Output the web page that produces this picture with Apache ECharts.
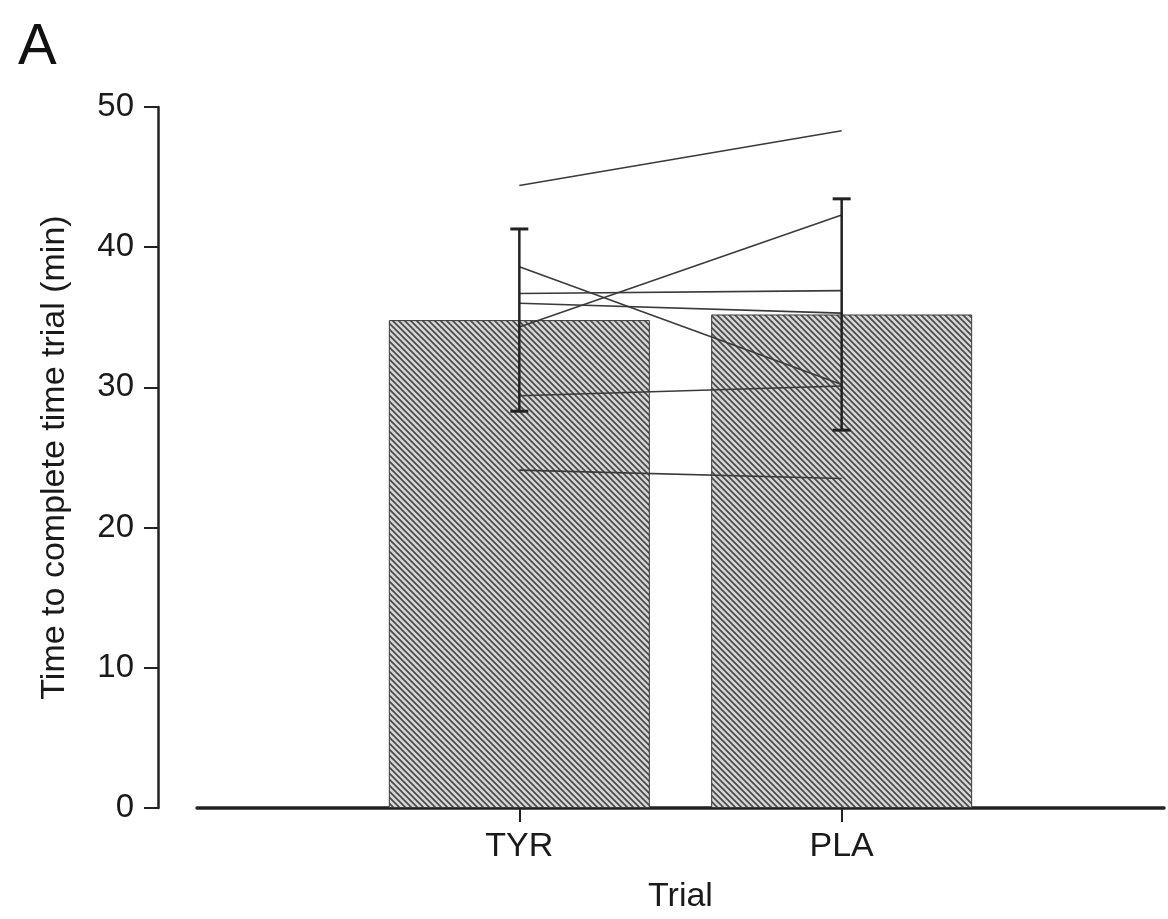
<!DOCTYPE html>
<html>
<head>
<meta charset="utf-8">
<script src="https://cdn.jsdelivr.net/npm/echarts@6/dist/echarts.min.js"></script>
<style>html,body{margin:0;padding:0;background:#fff;overflow:hidden;}#chart{width:1168px;height:919px;}</style>
</head>
<body>
<div id="chart"></div>
<script>
var categories = ['TYR', 'PLA'];
var categoryPos = [1, 2];
var meanValues = [34.8, 35.2];
var sdValues = [6.5, 8.25];
var subjectTYR = [44.4, 38.6, 36.7, 36.0, 34.3, 29.4, 24.1];
var subjectPLA = [48.3, 30.2, 36.9, 35.3, 42.3, 30.1, 23.5];
var yTicks = [0, 10, 20, 30, 40, 50];

function hatch() {
  var s = 6, c = document.createElement('canvas');
  c.width = s; c.height = s;
  var g = c.getContext('2d');
  g.fillStyle = '#d6d6d6';
  g.fillRect(0, 0, s, s);
  g.strokeStyle = '#4a4a4a';
  g.lineWidth = 1.7;
  g.beginPath();
  g.moveTo(-1, -1); g.lineTo(s + 1, s + 1);
  g.moveTo(-1, s - 1); g.lineTo(1, s + 1);
  g.moveTo(s - 1, -1); g.lineTo(s + 1, 1);
  g.stroke();
  return c;
}

var font = '"Liberation Sans", Arial, sans-serif';
var chart = echarts.init(document.getElementById('chart'), null, {renderer: 'canvas'});
var series = [];
series.push({
  type: 'bar',
  data: categoryPos.map(function (p, i) { return [p, meanValues[i]]; }),
  barWidth: 261,
  itemStyle: {color: {image: hatch(), repeat: 'repeat'}, borderColor: '#3a3a3a', borderWidth: 1},
  z: 1,
  silent: true
});
for (var i = 0; i < subjectTYR.length; i++) {
  series.push({
    type: 'line',
    data: [[categoryPos[0], subjectTYR[i]], [categoryPos[1], subjectPLA[i]]],
    symbol: 'none',
    lineStyle: {color: '#3a3a3a', width: 1.6},
    z: 3,
    silent: true
  });
}
series.push({
  type: 'custom',
  data: categoryPos.map(function (p, i) { return [p, meanValues[i], sdValues[i]]; }),
  renderItem: function (params, api) {
    var x = api.value(0), m = api.value(1), sd = api.value(2);
    var top = api.coord([x, m + sd]);
    var bot = api.coord([x, m - sd]);
    var hw = 9;
    return {
      type: 'group',
      children: [
        {type: 'line', shape: {x1: top[0], y1: top[1], x2: bot[0], y2: bot[1]}, style: {stroke: '#222', lineWidth: 2.5}},
        {type: 'line', shape: {x1: top[0] - hw, y1: top[1], x2: top[0] + hw, y2: top[1]}, style: {stroke: '#222', lineWidth: 3}},
        {type: 'line', shape: {x1: bot[0] - hw, y1: bot[1], x2: bot[0] + hw, y2: bot[1]}, style: {stroke: '#222', lineWidth: 3}}
      ]
    };
  },
  z: 4,
  silent: true
});

chart.setOption({
  animation: false,
  backgroundColor: '#fff',
  title: {text: 'A', left: 13, top: 14, textStyle: {fontFamily: font, fontSize: 58, fontWeight: 'normal', color: '#111'}},
  grid: {left: 197, right: 4, top: 107, bottom: 101, containLabel: false},
  xAxis: {
    type: 'value', min: 0, max: 3,
    name: 'Trial', nameLocation: 'middle', nameGap: 72,
    nameTextStyle: {fontFamily: font, fontSize: 34, color: '#1a1a1a'},
    axisLine: {show: true, onZero: false, lineStyle: {color: '#222', width: 3.5}},
    axisTick: {show: true, length: 14, lineStyle: {color: '#222', width: 2}, customValues: categoryPos},
    axisLabel: {margin: 22, fontFamily: font, fontSize: 34, color: '#1a1a1a', customValues: categoryPos,
      formatter: function (v) { var k = categoryPos.indexOf(v); return k >= 0 ? categories[k] : ''; }},
    splitLine: {show: false}
  },
  yAxis: {
    type: 'value', min: 0, max: 50, interval: 10, offset: 39,
    name: 'Time to complete time trial (min)', nameLocation: 'middle', nameGap: 86,
    nameTextStyle: {fontFamily: font, fontSize: 34, color: '#1a1a1a'},
    axisLine: {show: true, onZero: false, lineStyle: {color: '#222', width: 2.5}},
    axisTick: {show: true, length: 14, lineStyle: {color: '#222', width: 2}},
    axisLabel: {margin: 24, fontFamily: font, fontSize: 33, color: '#1a1a1a', customValues: yTicks},
    splitLine: {show: false}
  },
  series: series
});
</script>
</body>
</html>
